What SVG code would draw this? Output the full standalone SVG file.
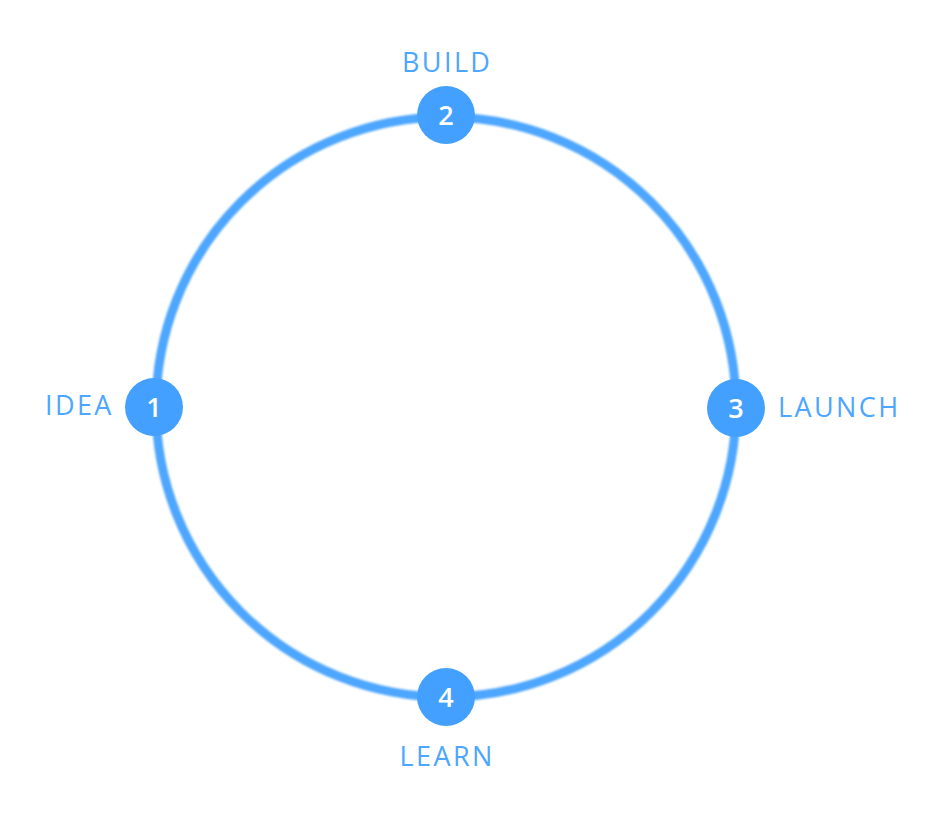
<svg xmlns="http://www.w3.org/2000/svg" width="932" height="814" viewBox="0 0 932 814">
<style>
.lbl{font-family:"Open Sans","Liberation Sans",sans-serif;font-size:27px;font-weight:500;letter-spacing:2.4px;fill:#4DA6FF}
.num{font-family:"Open Sans","Liberation Sans",sans-serif;font-size:27px;font-weight:600;fill:#ffffff;text-anchor:middle}
.dot{fill:#44A0FF}
</style>
<defs><filter id="soft" x="-5%" y="-5%" width="110%" height="110%"><feGaussianBlur stdDeviation="0.8"/></filter></defs>
<rect width="932" height="814" fill="#ffffff"/>
<g id="connectors" filter="url(#soft)">
<circle cx="446" cy="407" r="290" fill="none" stroke="#4DA6FF" stroke-width="9"/>
</g>
<g id="node1"><circle class="dot" cx="154" cy="407" r="29"/><text class="num" x="154" y="416.5">1</text><text class="lbl" x="45" y="415">IDEA</text></g>
<g id="node2"><circle class="dot" cx="446" cy="115" r="29"/><text class="num" x="446" y="124.5">2</text><text class="lbl" x="447.2" y="72" text-anchor="middle">BUILD</text></g>
<g id="node3"><circle class="dot" cx="736" cy="408" r="29"/><text class="num" x="736" y="417.5">3</text><text class="lbl" x="778" y="417">LAUNCH</text></g>
<g id="node4"><circle class="dot" cx="446" cy="697" r="29"/><text class="num" x="446" y="706.5">4</text><text class="lbl" x="447.2" y="766" text-anchor="middle">LEARN</text></g>
</svg>
